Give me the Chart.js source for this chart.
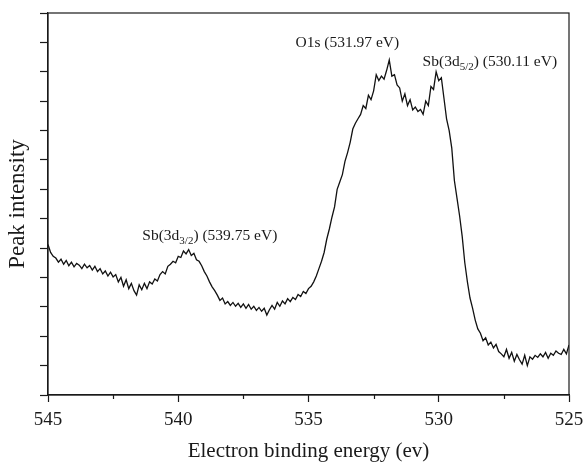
<!DOCTYPE html>
<html>
<head>
<meta charset="utf-8">
<script src="https://cdn.jsdelivr.net/npm/chart.js@4.4.1/dist/chart.umd.min.js"></script>
<style>
  html, body { margin: 0; padding: 0; background: #ffffff; }
  #wrap { width: 587px; height: 462px; position: relative; }
</style>
</head>
<body>
<div id="wrap"><canvas id="c"></canvas></div>
<script>
// Binding energy (eV)
const energies = [
  545.0,544.9,544.8,544.7,544.6,544.5,544.4,544.3,544.2,544.1,
  544.0,543.9,543.8,543.7,543.6,543.5,543.4,543.3,543.2,543.1,
  543.0,542.9,542.8,542.7,542.6,542.5,542.4,542.3,542.2,542.1,
  542.0,541.9,541.8,541.7,541.6,541.5,541.4,541.3,541.2,541.1,
  541.0,540.9,540.8,540.7,540.6,540.5,540.4,540.3,540.2,540.1,
  540.0,539.9,539.8,539.7,539.6,539.5,539.4,539.3,539.2,539.1,
  539.0,538.9,538.8,538.7,538.6,538.5,538.4,538.3,538.2,538.1,
  538.0,537.9,537.8,537.7,537.6,537.5,537.4,537.3,537.2,537.1,
  537.0,536.9,536.8,536.7,536.6,536.5,536.4,536.3,536.2,536.1,
  536.0,535.9,535.8,535.7,535.6,535.5,535.4,535.3,535.2,535.1,
  535.0,534.9,534.8,534.7,534.6,534.5,534.4,534.3,534.2,534.1,
  534.0,533.9,533.8,533.7,533.6,533.5,533.4,533.3,533.2,533.1,
  533.0,532.9,532.8,532.7,532.6,532.5,532.4,532.3,532.2,532.1,
  532.0,531.9,531.8,531.7,531.6,531.5,531.4,531.3,531.2,531.1,
  531.0,530.9,530.8,530.7,530.6,530.5,530.4,530.3,530.2,530.1,
  530.0,529.9,529.8,529.7,529.6,529.5,529.4,529.3,529.2,529.1,
  529.0,528.9,528.8,528.7,528.6,528.5,528.4,528.3,528.2,528.1,
  528.0,527.9,527.8,527.7,527.6,527.5,527.4,527.3,527.2,527.1,
  527.0,526.9,526.8,526.7,526.6,526.5,526.4,526.3,526.2,526.1,
  526.0,525.9,525.8,525.7,525.6,525.5,525.4,525.3,525.2,525.1,
  525.0
];
// Peak intensity (arbitrary units, axis 0..13)
const intensity = [
  5.12,4.85,4.72,4.66,4.52,4.62,4.45,4.58,4.40,4.52,
  4.36,4.48,4.42,4.30,4.45,4.33,4.41,4.25,4.38,4.20,
  4.30,4.12,4.22,4.05,4.18,4.02,4.10,3.85,4.00,3.70,
  3.92,3.62,3.80,3.55,3.40,3.75,3.58,3.80,3.62,3.85,
  3.78,3.95,3.88,4.10,4.20,4.12,4.38,4.45,4.55,4.50,
  4.72,4.68,4.90,4.80,4.95,4.75,4.82,4.60,4.55,4.40,
  4.20,4.05,3.85,3.68,3.55,3.40,3.22,3.30,3.10,3.18,
  3.05,3.15,3.02,3.12,2.98,3.10,2.95,3.08,2.92,3.02,
  2.88,2.98,2.85,2.95,2.72,2.90,3.05,2.92,3.15,3.02,
  3.20,3.10,3.28,3.18,3.32,3.25,3.42,3.35,3.52,3.45,
  3.62,3.70,3.85,4.05,4.30,4.55,4.85,5.30,5.65,6.05,
  6.40,7.00,7.25,7.50,7.95,8.25,8.60,9.05,9.25,9.40,
  9.55,9.85,9.75,10.20,10.05,10.35,10.90,10.70,10.85,10.75,
  11.05,11.40,10.85,10.90,10.55,10.45,10.00,10.25,9.85,10.05,
  9.70,9.80,9.65,9.72,9.55,10.00,9.85,10.50,10.40,11.00,
  10.70,10.80,10.10,9.40,9.00,8.40,7.30,6.70,6.10,5.40,
  4.50,3.85,3.30,2.95,2.55,2.25,2.10,1.85,1.95,1.70,
  1.80,1.60,1.72,1.48,1.40,1.30,1.55,1.25,1.45,1.15,
  1.38,1.20,1.05,1.35,1.00,1.30,1.22,1.35,1.28,1.40,
  1.30,1.45,1.25,1.42,1.35,1.50,1.42,1.38,1.55,1.40,
  1.70
];
// Axis settings
const xMin = 525, xMax = 545, xMajor = 5, xMinor = 2.5;
const yMin = 0, yMax = 13, yStep = 1;
const xTitle = 'Electron binding energy (ev)';
const yTitle = 'Peak intensity';
// Peak labels: main text, subscript, trailing text
const labelMain = ['Sb(3d', 'O1s (531.97 eV)', 'Sb(3d'];
const labelSub  = ['3/2', '', '5/2'];
const labelTail = [') (539.75 eV)', '', ') (530.11 eV)'];
// label anchor (left edge, baseline) in data units
const labelAtX = [541.38, 535.50, 530.62];
const labelAtY = [5.27, 11.84, 11.19];

const SERIF = '"Liberation Serif", "DejaVu Serif", serif';
const INK = '#1a1a1a';

const points = energies.map((e, i) => ({ x: e, y: intensity[i] }));

const extras = {
  id: 'extras',
  afterDraw(chart) {
    const ctx = chart.ctx;
    const a = chart.chartArea;
    const xs = chart.scales.x;
    ctx.save();
    // frame
    ctx.strokeStyle = INK;
    ctx.lineWidth = 1.2;
    ctx.strokeRect(a.left, a.top, a.right - a.left, a.bottom - a.top);
    // minor x ticks
    for (let v = xMin; v <= xMax; v += xMinor) {
      if (Math.abs(v % xMajor) > 1e-6) {
        const px = Math.round(xs.getPixelForValue(v)) + 0.5;
        ctx.beginPath();
        ctx.moveTo(px, a.bottom);
        ctx.lineTo(px, a.bottom + 4);
        ctx.stroke();
      }
    }
    // peak labels
    ctx.fillStyle = INK;
    ctx.textBaseline = 'alphabetic';
    ctx.textAlign = 'left';
    const ys = chart.scales.y;
    for (let i = 0; i < labelMain.length; i++) {
      let px = xs.getPixelForValue(labelAtX[i]);
      const py = ys.getPixelForValue(labelAtY[i]);
      ctx.font = '15.5px ' + SERIF;
      ctx.fillText(labelMain[i], px, py);
      px += ctx.measureText(labelMain[i]).width;
      if (labelSub[i]) {
        ctx.font = '11px ' + SERIF;
        ctx.fillText(labelSub[i], px, py + 4);
        px += ctx.measureText(labelSub[i]).width;
      }
      if (labelTail[i]) {
        ctx.font = '15.5px ' + SERIF;
        ctx.fillText(labelTail[i], px, py);
      }
    }
    ctx.restore();
  }
};

new Chart(document.getElementById('c'), {
  type: 'line',
  data: {
    datasets: [{
      data: points,
      borderColor: '#111',
      borderWidth: 1.3,
      pointRadius: 0,
      tension: 0,
      fill: false
    }]
  },
  options: {
    responsive: true,
    maintainAspectRatio: false,
    animation: false,
    devicePixelRatio: 1,
    layout: { padding: { top: 13, right: 18, left: 0, bottom: 0 } },
    plugins: { legend: { display: false }, tooltip: { enabled: false } },
    scales: {
      x: {
        type: 'linear',
        reverse: true,
        min: xMin, max: xMax,
        afterFit(s) { s.height = 67; s.paddingLeft = 0; s.paddingRight = 0; },
        ticks: {
          stepSize: xMinor,
          autoSkip: false,
          maxRotation: 0,
          padding: 7,
          color: INK,
          font: { family: SERIF, size: 19 },
          callback: v => (Math.abs(v % xMajor) < 1e-6 ? String(v) : '')
        },
        grid: {
          drawOnChartArea: false,
          tickLength: 7,
          tickWidth: 1.2,
          tickColor: c => (c.tick && Math.abs(c.tick.value % xMajor) < 1e-6 ? INK : 'rgba(0,0,0,0)')
        },
        border: { display: true, color: INK, width: 1.2 },
        title: {
          display: true,
          text: xTitle,
          color: INK,
          font: { family: SERIF, size: 21, lineHeight: 1.0 },
          padding: { top: 0, bottom: 0 }
        }
      },
      y: {
        type: 'linear',
        min: yMin, max: yMax,
        afterFit(s) { s.width = 48; s.paddingTop = 0; s.paddingBottom = 0; },
        ticks: {
          stepSize: yStep,
          color: INK,
          callback: () => ''
        },
        grid: {
          drawOnChartArea: false,
          tickLength: 8,
          tickWidth: 1.2,
          tickColor: INK
        },
        border: { display: true, color: INK, width: 1.2 },
        title: {
          display: true,
          text: yTitle,
          color: INK,
          font: { family: SERIF, size: 23 },
          padding: { top: 4, bottom: 0 }
        }
      }
    }
  },
  plugins: [extras]
});
</script>
</body>
</html>
